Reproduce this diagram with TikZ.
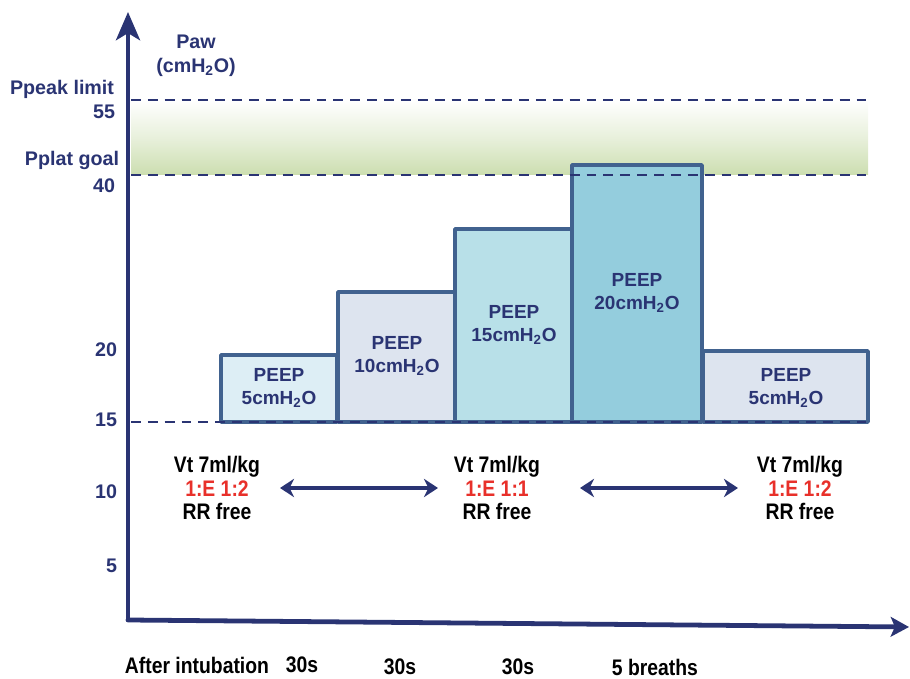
\documentclass[tikz,border=0pt]{standalone}
\usepackage{fontspec}
\setmainfont{Liberation Sans}
\newfontfamily\narrowfont[FakeStretch=0.86]{Liberation Sans}
\usepackage{xcolor}
\usepackage{tikz}
\usetikzlibrary{arrows.meta}
\definecolor{navy}{HTML}{2A3473}
\definecolor{barline}{HTML}{41628F}
\definecolor{redtxt}{HTML}{E8302A}
\definecolor{bandgreen}{HTML}{CCDEB0}
\definecolor{fillA}{HTML}{DDEEF5}
\definecolor{fillB}{HTML}{DDE4EF}
\definecolor{fillC}{HTML}{B8E0E8}
\definecolor{fillD}{HTML}{94CDDD}
\tikzset{
    axis/.style = {navy, line width=3.4pt},
    limit/.style = {navy, line width=2.1pt, dash pattern=on 7pt off 5pt},
    bar/.style = {barline, line width=2.5pt, line join=round},
    peep/.style = {navy, font=\bfseries\fontsize{13.5}{17}\selectfont, align=center},
    tick/.style = {navy, font=\bfseries\fontsize{14}{16}\selectfont, anchor=east},
    setting/.style = {black, font=\narrowfont\bfseries\fontsize{16}{17}\selectfont, align=center},
    stage/.style = {black, font=\narrowfont\bfseries\fontsize{16}{16}\selectfont},
    dblarrow/.style = {navy, line width=2.4pt, {Stealth[length=10pt,width=13pt]}-{Stealth[length=10pt,width=13pt]}},
}

\begin{document}
\begin{tikzpicture}[x=0.025cm, y=0.025cm]
    \useasboundingbox (0,0) rectangle (910,679);

    \coordinate (origin) at (128,59);
    \coordinate (ytip) at (128,667);
    \coordinate (xtip) at (909,52);

    % target band between Pplat goal and Ppeak limit
    \shade[top color=white, bottom color=bandgreen, middle color=bandgreen!45] (131,504) rectangle (868,579);

    % PEEP steps
    \draw[bar, fill=fillA] (221,257) rectangle (337,324);
    \draw[bar, fill=fillB] (338,257) rectangle (455,387);
    \draw[bar, fill=fillC] (455,257) rectangle (572,450);
    \draw[bar, fill=fillD] (572,257) rectangle (702,514);
    \draw[bar, fill=fillB] (703,257) rectangle (868,328);

    \node (p5)  at (279,291) [peep] {PEEP\\5cmH\textsubscript{2}O};
    \node (p10) at (397,323) [peep] {PEEP\\10cmH\textsubscript{2}O};
    \node (p15) at (514,354) [peep] {PEEP\\15cmH\textsubscript{2}O};
    \node (p20) at (637,386) [peep] {PEEP\\20cmH\textsubscript{2}O};
    \node (p5b) at (786,291) [peep] {PEEP\\5cmH\textsubscript{2}O};

    % limits
    \draw[limit] (131,579) -- (868,579);
    \draw[limit] (131,504) -- (868,504);
    \draw[limit] (131,257) -- (868,257);

    % axes
    \draw[axis, -{Stealth[length=20pt,width=17pt,inset=5pt]}] (origin) -- (ytip);
    \draw[axis, line cap=round, -{Stealth[length=13pt,width=14pt,inset=3pt]}] (origin) -- (xtip);

    \node (paw) at (196,637) [navy, font=\bfseries\fontsize{14}{16}\selectfont] {Paw};
    \node (unit) at (196,612) [navy, font=\bfseries\fontsize{14}{16}\selectfont] {(cmH\textsubscript{2}O)};
    \node (peak) at (119,590) [tick] {Ppeak limit};
    \node (t55) at (120,567) [tick] {55};
    \node (plat) at (124,519) [tick] {Pplat goal};
    \node (t40) at (120,493) [tick] {40};
    \node (t20) at (122,329) [tick] {20};
    \node (t15) at (122,259) [tick] {15};
    \node (t10) at (122,187) [tick] {10};
    \node (t5)  at (122,113) [tick] {5};

    % ventilator settings
    \node (setA) at (217,191) [setting] {Vt 7ml/kg\\\textcolor{redtxt}{1:E 1:2}\\RR free};
    \node (setB) at (497,191) [setting] {Vt 7ml/kg\\\textcolor{redtxt}{1:E 1:1}\\RR free};
    \node (setC) at (800,191) [setting] {Vt 7ml/kg\\\textcolor{redtxt}{1:E 1:2}\\RR free};
    \coordinate (a1) at (280,191);
    \coordinate (a2) at (438,191);
    \coordinate (b1) at (580,191);
    \coordinate (b2) at (738,191);
    \draw[dblarrow] (a1) -- (a2);
    \draw[dblarrow] (b1) -- (b2);

    % time line
    \node (after) at (197,14) [stage] {After intubation};
    \node (s1) at (302,14) [stage] {30s};
    \node (s2) at (400,12) [stage] {30s};
    \node (s3) at (518,12) [stage] {30s};
    \node (s4) at (655,12) [stage] {5 breaths};
\end{tikzpicture}
\end{document}
